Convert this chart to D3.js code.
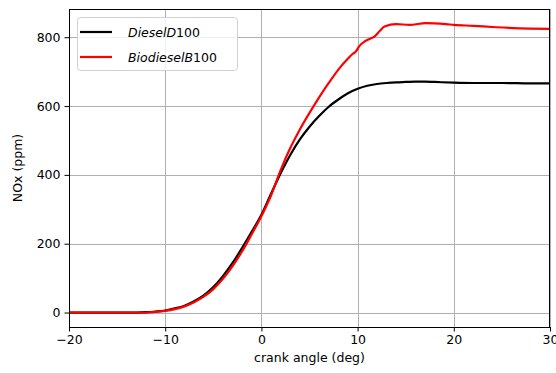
<!DOCTYPE html>
<html>
<head>
<meta charset="utf-8">
<script src="https://cdn.jsdelivr.net/npm/d3@7"></script>
<style>
  html, body { margin: 0; padding: 0; background: #fff; }
  svg { display: block; font-family: "DejaVu Sans", sans-serif; }
</style>
</head>
<body>
<svg id="chart" width="556" height="373"></svg>
<script>
// ---- data ----
const dieselX = [-20, -16, -13, -12, -11, -10, -9, -8, -7, -6, -5, -4, -3, -2, -1, 0, 1, 2, 3, 4, 5, 6, 7, 8, 9, 10, 11, 12, 13, 14, 15, 16, 17, 18, 20, 22, 25, 28, 30];
const dieselNOx = [0, 0, 0, 1, 3, 6, 12, 20, 33, 50, 74, 106, 144, 188, 235, 284, 345, 405, 458, 503, 540, 571, 598, 619, 637, 650, 659, 664, 667, 669, 670, 671, 671, 670, 668, 667, 667, 666, 666];

const biodieselX = [-20, -16, -12, -11, -10, -9, -8, -7, -6, -5, -4, -3, -2, -1, 0, 1, 2, 3, 4, 5, 6, 7, 8, 9, 9.5, 9.8, 10.2, 10.7, 11.4, 11.75, 12.3, 12.8, 14, 15.4, 17.1, 19.2, 20, 22, 24.4, 27.9, 30];
const biodieselNOx = [0, 0, 0, 2, 5, 10, 18, 30, 46, 68, 98, 135, 178, 228, 280, 340, 414, 478, 532, 580, 625, 667, 706, 738, 752, 758, 775, 787, 797, 802, 818, 831, 838, 836, 841, 838, 836, 833, 829, 825, 824];

const xTicks = [-20, -10, 0, 10, 20, 30];
const yTicks = [0, 200, 400, 600, 800];
const seriesNames = [["Diesel", "D", "100"], ["Biodiesel", "B", "100"]];
const seriesColors = ["#000000", "#ff0000"];

// ---- layout ----
const svg = d3.select("#chart");
const L = 69, R = 550, T = 9, B = 327;
const x = d3.scaleLinear().domain([-20, 30]).range([L, R]);
const y = d3.scaleLinear().domain([-42, 882]).range([B, T]);

// grid
const grid = svg.append("g").attr("stroke", "#b0b0b0").attr("stroke-width", 1);
xTicks.forEach(t => grid.append("line")
  .attr("x1", Math.round(x(t)) + 0.5).attr("x2", Math.round(x(t)) + 0.5)
  .attr("y1", T).attr("y2", B));
yTicks.forEach(t => grid.append("line")
  .attr("y1", Math.round(y(t)) + 0.5).attr("y2", Math.round(y(t)) + 0.5)
  .attr("x1", L).attr("x2", R));

// lines
const line = d3.line().x(d => x(d[0])).y(d => y(d[1])).curve(d3.curveMonotoneX);
const series = [
  d3.zip(dieselX, dieselNOx),
  d3.zip(biodieselX, biodieselNOx)
];
series.forEach((s, i) => {
  svg.append("path").datum(s)
    .attr("fill", "none")
    .attr("stroke", seriesColors[i])
    .attr("stroke-width", 2.2)
    .attr("stroke-linejoin", "round")
    .attr("d", line);
});

// axes
const xAxis = d3.axisBottom(x).tickValues(xTicks).tickSize(4.5).tickPadding(4)
  .tickFormat(d => d < 0 ? "\u2212" + Math.abs(d) : d);
const yAxis = d3.axisLeft(y).tickValues(yTicks).tickSize(4.5).tickPadding(4);
const gx = svg.append("g").attr("transform", `translate(0,${B})`).call(xAxis);
const gy = svg.append("g").attr("transform", `translate(${L},0)`).call(yAxis);
[gx, gy].forEach(g => {
  g.select(".domain").remove();
  g.selectAll("text").attr("font-family", "DejaVu Sans").attr("font-size", 12.5).attr("fill", "#000");
  g.selectAll("line").attr("stroke", "#000").attr("stroke-width", 1);
});

// frame
svg.append("rect").attr("x", L + 0.5).attr("y", T + 0.5)
  .attr("width", R - L - 1).attr("height", B - T)
  .attr("fill", "none").attr("stroke", "#000").attr("stroke-width", 1);

// axis labels
svg.append("text").attr("x", (L + R) / 2).attr("y", 362)
  .attr("text-anchor", "middle").attr("font-size", 12.5).text("crank angle (deg)");
svg.append("text").attr("transform", `translate(22,${(T + B) / 2}) rotate(-90)`)
  .attr("text-anchor", "middle").attr("font-size", 12.5).text("NOx (ppm)");

// legend
const lg = svg.append("g");
lg.append("rect").attr("x", 77.5).attr("y", 17.5).attr("width", 160).attr("height", 53)
  .attr("rx", 3).attr("fill", "#fff").attr("fill-opacity", 0.8)
  .attr("stroke", "#d0d0d0").attr("stroke-width", 1);
seriesNames.forEach((nm, i) => {
  const yy = 32 + i * 25;
  lg.append("line").attr("x1", 80).attr("x2", 112).attr("y1", yy).attr("y2", yy)
    .attr("stroke", seriesColors[i]).attr("stroke-width", 2.2);
  const t = lg.append("text").attr("x", 128).attr("y", yy + 4.5).attr("font-size", 12.5);
  t.append("tspan").attr("font-style", "italic").text(nm[0] + nm[1]);
  t.append("tspan").text(nm[2]);
});
</script>
</body>
</html>
